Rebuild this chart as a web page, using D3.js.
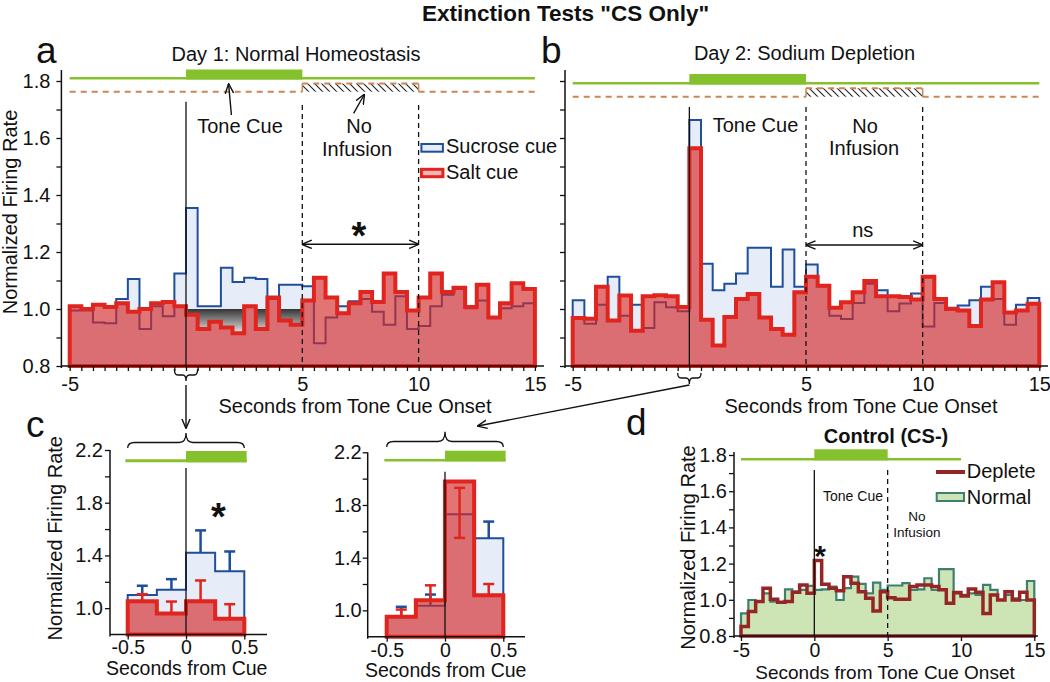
<!DOCTYPE html>
<html><head><meta charset="utf-8">
<script src="https://cdn.jsdelivr.net/npm/d3@7"></script>
<style>body{margin:0;background:#fff} svg{display:block}</style>
</head><body><svg id="c" width="1050" height="682"></svg>
<script>
// ---------------- DATA ----------------
const binStarts = d3.range(-5, 15, 0.5);   // 40 bins of 0.5 s
const binW = 0.5;
const aSucrose = [0.995,0.995,0.953,0.95,1.035,1.105,0.93,1.01,0.975,1.125,
  1.354,1.01,1.01,1.145,1.095,1.11,1.105,1.035,1.085,1.085,
  1.08,0.88,0.97,1.01,1.027,1.035,0.99,0.945,1.045,0.93,
  0.94,1.01,1.05,1.07,1.003,1.03,0.97,1.003,1.01,1.02];
const aSalt = [1.01,1.0,1.015,1.007,1.02,0.99,1.0,1.02,1.025,1.01,
  0.98,0.93,0.955,0.935,0.915,1.01,0.93,1.04,0.96,0.945,
  1.03,1.11,1.04,0.985,1.02,1.06,1.025,1.125,1.06,0.995,
  1.04,1.125,1.06,1.075,1.007,1.085,0.97,1.02,1.09,1.07];
const bSucrose = [1.031,0.948,1.015,1.113,0.976,1.015,0.933,1.024,1.006,0.992,
  1.663,1.159,1.066,1.089,1.125,1.215,1.215,1.078,1.209,1.078,
  1.156,1.08,0.976,0.965,1.021,1.089,1.066,0.992,1.019,1.054,
  0.939,1.021,1.004,1.012,1.031,1.078,1.035,0.945,1.015,1.039];
const bSalt = [0.968,0.966,1.078,0.96,1.047,0.924,1.045,1.048,1.045,1.007,
  1.564,0.962,0.872,0.972,1.035,1.053,0.97,0.93,0.91,1.059,
  1.113,1.082,1.004,1.024,1.059,1.098,1.045,1.045,1.042,1.033,
  1.113,1.035,1.0,0.995,0.94,1.033,1.094,0.988,0.995,1.018];
const dDeplete = [0.852,0.935,0.99,1.064,1.003,0.986,0.99,1.042,1.082,1.036,
  1.217,1.086,1.064,1.05,1.128,1.092,1.045,1.008,0.938,1.045,
  1.012,1.003,1.003,1.073,1.082,1.082,1.073,1.055,0.981,1.04,
  1.021,1.06,1.042,0.925,1.027,0.999,1.045,0.999,1.042,0.999];
const dNormal = [0.925,0.999,0.99,1.036,0.99,0.985,1.058,1.045,1.055,1.077,
  1.055,1.058,1.073,0.999,1.064,1.128,1.088,1.036,1.095,1.055,
  1.079,1.079,1.092,1.055,1.058,1.119,1.055,1.169,1.169,1.036,
  1.027,1.036,1.027,1.082,1.055,0.999,1.027,1.008,0.999,1.104];
// inset (c) bins of 0.25 s
const cStarts = [-0.5,-0.25,0,0.25];
const cW = 0.25;
const c1Sucrose = [1.10,1.14,1.42,1.28];
const c1SucroseErrHi = [1.17,1.22,1.59,1.43];
const c1Salt = [1.053,0.96,1.053,0.92];
const c1SaltErrHi = [1.106,1.05,1.21,1.03];
const c2Sucrose = [0.95,1.035,1.73,1.548];
const c2SucroseErrHi = [1.027,1.12,1.73,1.674];
const c2Salt = [0.951,1.077,1.979,1.115];
const c2SaltErrLo = [0.951,1.077,1.55,1.115];
const c2SaltErrHi = [1.006,1.19,1.93,1.20];
// windows / ticks
const trialWin = [-5,15], toneWin = [0,5], infusionWin = [5,10], dBarWin = [-5,10];
const cBarWin = [-0.52,0.52], cToneWin = [0,0.52];
const yTicksMain = [8,9,10,11,12,13,14,15,16,17,18].map(d=>d/10);
const yLabelsMain = [0.8,1.0,1.2,1.4,1.6,1.8];
const yTicksC = [10,12,14,16,18,20,22].map(d=>d/10);
const yLabelsC = [1.0,1.4,1.8,2.2];
const xLabelsAB = [-5,5,10,15];
const xLabelsD = [-5,0,5,10,15];
const xLabelsC = [-0.5,0,0.5];

// ---------------- SETUP ----------------
const FONT = "'Liberation Sans', Arial, Helvetica, sans-serif";
const svg = d3.select("#c");
svg.append("rect").attr("width",1050).attr("height",682).attr("fill","#fff");
const defs = svg.append("defs");
defs.append("marker").attr("id","arr").attr("viewBox","0 0 10 10").attr("refX",9.5).attr("refY",5)
  .attr("markerWidth",10).attr("markerHeight",10).attr("markerUnits","userSpaceOnUse").attr("orient","auto-start-reverse")
  .append("path").attr("d","M0,0.8 L10,5 L0,9.2").attr("fill","none").attr("stroke","#111").attr("stroke-width",1.4);
const pat = defs.append("pattern").attr("id","hatch").attr("patternUnits","userSpaceOnUse").attr("width",7).attr("height",7);
pat.append("path").attr("d","M0,0 L7,7 M-1,6 L1,8 M6,-1 L8,1").attr("stroke","#222").attr("stroke-width",1.1);

const GREEN="#84c12c", ORANGE="#c98756", BLUE="#1f4e9c", BLUEF="#e6edf8", RED="#e0241e", REDF="#d42a2a", REDOP=0.65;
const DRED="#962626", TEAL="#3e7f6f", GREENF="#cde5b5";

const A = {x:d3.scaleLinear(trialWin,[69.7,534.9]), y:d3.scaleLinear([0.8,1.8],[366,81])};
const B = {x:d3.scaleLinear(trialWin,[572.7,1039.3]), y:d3.scaleLinear([0.8,1.8],[366,81])};
const C1 = {x:d3.scaleLinear([-0.5,0.5],[127.7,244.3]), y:d3.scaleLinear([0.8,2.2],[634.5,450])};
const C2 = {x:d3.scaleLinear([-0.5,0.5],[386.7,503.3]), y:d3.scaleLinear([0.8,2.2],[636.7,452.3])};
const D = {x:d3.scaleLinear(trialWin,[741,1034.3]), y:d3.scaleLinear([0.8,1.8],[636,455])};

function stepPath(P, starts, w, vals, base){
  const pts = vals.map((v,i)=>[starts[i],v]);
  pts.push([starts[vals.length-1]+w, vals[vals.length-1]]);
  return d3.area().curve(d3.curveStepAfter).x(d=>P.x(d[0])).y0(P.y(base)).y1(d=>P.y(d[1]))(pts);
}
function txt(x,y,s,o={}){
  const t = svg.append("text").attr("x",x).attr("y",y).text(s)
    .attr("font-family",FONT).attr("font-size",o.size||20).attr("fill",o.fill||"#111")
    .attr("text-anchor",o.anchor||"start").attr("font-weight",o.weight||"normal");
  if(o.rotate) t.attr("transform",`rotate(-90,${x},${y})`);
  return t;
}
function isIn(arr,d){return arr.some(l=>Math.abs(l-d)<1e-6);}
function yAxis(P, x0, ticks, labels, pad, top){
  const g = svg.append("g").attr("transform",`translate(${x0},0)`);
  g.call(d3.axisLeft(P.y).tickValues(ticks).tickSize(5).tickPadding(pad).tickFormat(d=>isIn(labels,d)?d.toFixed(1):""));
  g.attr("font-family",FONT).attr("font-size",20);
  g.select(".domain").remove();
  g.selectAll(".tick line").attr("stroke","#111").attr("stroke-width",1.3);
  g.selectAll(".tick text").attr("fill","#111");
  g.append("line").attr("y1",top).attr("y2",P.y.range()[0]+2).attr("stroke","#111").attr("stroke-width",1.5);
}
function xAxis(P, y0, ticks, labels, pad, x1, x2, fs){
  const g = svg.append("g").attr("transform",`translate(0,${y0})`);
  g.call(d3.axisBottom(P.x).tickValues(ticks).tickSize(5).tickPadding(pad).tickFormat(d=>isIn(labels,d)?String(d):""));
  g.attr("font-family",FONT).attr("font-size",fs||20);
  g.select(".domain").remove();
  g.selectAll(".tick line").attr("stroke","#111").attr("stroke-width",1.3);
  g.selectAll(".tick text").attr("fill","#111");
  g.append("line").attr("x1",x1).attr("x2",x2).attr("stroke","#111").attr("stroke-width",1.5);
}
function vline(P, t, y1, dashed){
  svg.append("line").attr("x1",P.x(t)).attr("x2",P.x(t)).attr("y1",y1).attr("y2",P.y.range()[0])
    .attr("stroke","#111").attr("stroke-width",1.3).attr("stroke-dasharray",dashed?"5,4":null);
}
function greenBar(P, win, tone, yThin, thinW, yTop, yBot){
  svg.append("line").attr("x1",P.x(win[0])).attr("x2",P.x(win[1])).attr("y1",yThin).attr("y2",yThin)
    .attr("stroke",GREEN).attr("stroke-width",thinW);
  svg.append("rect").attr("x",P.x(tone[0])).attr("width",P.x(tone[1])-P.x(tone[0]))
    .attr("y",yTop).attr("height",yBot-yTop).attr("fill",GREEN);
}
function infusionLine(P, yBase, yTop){
  const seg = [[trialWin[0],infusionWin[0]],[infusionWin[1],trialWin[1]]];
  seg.forEach(s=>svg.append("line").attr("x1",P.x(s[0])).attr("x2",P.x(s[1])).attr("y1",yBase).attr("y2",yBase)
    .attr("stroke",ORANGE).attr("stroke-width",2).attr("stroke-dasharray","6,5"));
  const x1=P.x(infusionWin[0]), x2=P.x(infusionWin[1]);
  svg.append("rect").attr("x",x1).attr("width",x2-x1).attr("y",yTop).attr("height",yBase-yTop).attr("fill","url(#hatch)");
  svg.append("line").attr("x1",x1).attr("x2",x2).attr("y1",yTop).attr("y2",yTop)
    .attr("stroke",ORANGE).attr("stroke-width",2).attr("stroke-dasharray","6,5");
  [x1,x2].forEach(x=>svg.append("line").attr("x1",x).attr("x2",x).attr("y1",yTop).attr("y2",yBase)
    .attr("stroke",ORANGE).attr("stroke-width",1.5));
}
function brace(x1,x2,yEnd,yLine,yTip){
  const xm=(x1+x2)/2, q=Math.min(7,(x2-x1)/7);
  return `M${x1},${yEnd} Q${x1},${yLine} ${x1+q},${yLine} L${xm-q},${yLine} Q${xm},${yLine} ${xm},${yTip} Q${xm},${yLine} ${xm+q},${yLine} L${x2-q},${yLine} Q${x2},${yLine} ${x2},${yEnd}`;
}
function drawBrace(d){svg.append("path").attr("d",d).attr("fill","none").attr("stroke","#111").attr("stroke-width",1.3);}
function arrow(x1,y1,x2,y2,both){
  svg.append("line").attr("x1",x1).attr("y1",y1).attr("x2",x2).attr("y2",y2)
    .attr("stroke","#111").attr("stroke-width",1.4).attr("marker-end","url(#arr)").attr("marker-start",both?"url(#arr)":null);
}
function blueHist(P, starts, w, vals){
  svg.append("path").attr("d",stepPath(P,starts,w,vals,0.8)).attr("fill",BLUEF).attr("stroke",BLUE).attr("stroke-width",2);
}
function redHist(P, starts, w, vals){
  const d = stepPath(P,starts,w,vals,0.8);
  svg.append("path").attr("d",d).attr("fill",REDF).attr("fill-opacity",REDOP);
  svg.append("path").attr("d",d).attr("fill","none").attr("stroke",RED).attr("stroke-width",4);
}
function errBars(P, starts, w, means, lo, hi, color, sw){
  means.forEach((m,i)=>{
    if(hi[i]-lo[i] < 1e-6) return;
    const xc = P.x(starts[i]+w/2);
    svg.append("line").attr("x1",xc).attr("x2",xc).attr("y1",P.y(lo[i])).attr("y2",P.y(hi[i])).attr("stroke",color).attr("stroke-width",sw);
    svg.append("line").attr("x1",xc-5.5).attr("x2",xc+5.5).attr("y1",P.y(hi[i])).attr("y2",P.y(hi[i])).attr("stroke",color).attr("stroke-width",sw);
    if(lo[i] < m-1e-6)
      svg.append("line").attr("x1",xc-5.5).attr("x2",xc+5.5).attr("y1",P.y(lo[i])).attr("y2",P.y(lo[i])).attr("stroke",color).attr("stroke-width",sw);
  });
}

// ---------------- TITLE ----------------
txt(565.5,20.5,'Extinction Tests "CS Only"',{size:22.5,weight:"bold",anchor:"middle"});

// ---------------- PANEL A ----------------
txt(36,63,"a",{size:37});
txt(296,60.5,"Day 1: Normal Homeostasis",{anchor:"middle"});
greenBar(A, trialWin, toneWin, 78.2, 2.6, 69.5, 79.5);
infusionLine(A, 91.7, 83.5);
blueHist(A, binStarts, binW, aSucrose);
{
  // grey shading between 1.0 and the salt trace during the tone
  const grad = defs.append("linearGradient").attr("id","grey").attr("gradientUnits","userSpaceOnUse")
    .attr("x1",0).attr("x2",0).attr("y1",A.y(1.0)).attr("y2",A.y(0.91));
  grad.append("stop").attr("offset",0).attr("stop-color","#353535");
  grad.append("stop").attr("offset",1).attr("stop-color","#f0f0f0");
  const idx = binStarts.map((s,i)=>i).filter(i=>binStarts[i]>=toneWin[0] && binStarts[i]<toneWin[1]);
  const pts = idx.map(i=>[binStarts[i], aSalt[i]]);
  pts.push([binStarts[idx[idx.length-1]]+binW, aSalt[idx[idx.length-1]]]);
  svg.append("path").attr("d", d3.area().curve(d3.curveStepAfter).x(d=>A.x(d[0]))
      .y0(d=>A.y(Math.min(d[1],1.0))).y1(A.y(1.0))(pts)).attr("fill","url(#grey)");
}
redHist(A, binStarts, binW, aSalt);
vline(A, 0, 101.7, false);
vline(A, infusionWin[0], 105, true);
vline(A, infusionWin[1], 105, true);
yAxis(A, 61.4, yTicksMain, yLabelsMain, 6, 70);
xAxis(A, 366, binStarts.concat([15]), xLabelsAB, 6, 61.4, 544);
txt(240,133,"Tone Cue",{anchor:"middle"});
arrow(231.4,115,228.6,84);
txt(359,133,"No",{anchor:"middle"});
txt(357,156,"Infusion",{anchor:"middle"});
arrow(353.6,113.3,364.3,94.5);
svg.append("rect").attr("x",421.4).attr("y",144).attr("width",21.5).attr("height",7.7).attr("fill",BLUEF).attr("stroke",BLUE).attr("stroke-width",2);
svg.append("rect").attr("x",421.4).attr("y",169.3).attr("width",21.5).attr("height",7.4).attr("fill",REDF).attr("fill-opacity",0.35).attr("stroke",RED).attr("stroke-width",3);
txt(446,152.6,"Sucrose cue");
txt(446,179,"Salt cue");
arrow(A.x(infusionWin[0]),244.3,A.x(infusionWin[1]),244.3,true);
txt(359,248.5,"*",{size:38,weight:"bold",anchor:"middle"});
txt(16.5,212,"Normalized Firing Rate",{anchor:"middle",rotate:true});
txt(355,412.5,"Seconds from Tone Cue Onset",{anchor:"middle"});
drawBrace(brace(A.x(-0.5),A.x(0.5),369,375,381));
arrow(A.x(0),385,C1.x(0),428);

// ---------------- PANEL B ----------------
txt(541,63,"b",{size:37});
txt(804.5,60,"Day 2: Sodium Depletion",{anchor:"middle"});
greenBar(B, trialWin, toneWin, 83.3, 2.6, 74, 84.5);
infusionLine(B, 96.7, 88.3);
blueHist(B, binStarts, binW, bSucrose);
redHist(B, binStarts, binW, bSalt);
vline(B, 0, 107, false);
vline(B, infusionWin[0], 107, true);
vline(B, infusionWin[1], 107, true);
yAxis(B, 565, yTicksMain, [], 6, 70);
xAxis(B, 366, binStarts.concat([15]), xLabelsAB, 6, 565, 1048);
txt(755.5,131.5,"Tone Cue",{anchor:"middle"});
txt(865,133,"No",{anchor:"middle"});
txt(864,155,"Infusion",{anchor:"middle"});
arrow(B.x(infusionWin[0]),245,B.x(infusionWin[1]),245,true);
txt(862.7,237,"ns",{anchor:"middle"});
txt(861,412.5,"Seconds from Tone Cue Onset",{anchor:"middle"});
drawBrace(brace(B.x(-0.5),B.x(0.5),373,378,384));
arrow(B.x(0),385,C2.x(0.28),426);

// ---------------- PANEL C ----------------
txt(26,437,"c",{size:37});
// left inset
greenBar(C1, cBarWin, cToneWin, 460.8, 3, 451, 462.3);
drawBrace(brace(C1.x(-0.5),C1.x(0.5),448,442.5,433));
blueHist(C1, cStarts, cW, c1Sucrose);
errBars(C1, cStarts, cW, c1Sucrose, c1Sucrose, c1SucroseErrHi, BLUE, 2.5);
redHist(C1, cStarts, cW, c1Salt);
errBars(C1, cStarts, cW, c1Salt, c1Salt, c1SaltErrHi, RED, 2.5);
vline(C1, 0, 468, false);
yAxis(C1, 110, yTicksC, yLabelsC, 2, 450);
xAxis(C1, 634.5, xLabelsC, xLabelsC, 1, 110, 267, 19.5);
txt(61.7,538.3,"Normalized Firing Rate",{anchor:"middle",rotate:true});
txt(186.7,675,"Seconds from Cue",{anchor:"middle",size:19.5});
txt(218.5,530,"*",{size:38,weight:"bold",anchor:"middle"});
// right inset
greenBar(C2, cBarWin, cToneWin, 460.2, 2.6, 450.7, 461.3);
drawBrace(brace(C2.x(-0.5),C2.x(0.5),447,441.5,431.7));
blueHist(C2, cStarts, cW, c2Sucrose);
errBars(C2, cStarts, cW, c2Sucrose, c2Sucrose, c2SucroseErrHi, BLUE, 2.5);
redHist(C2, cStarts, cW, c2Salt);
errBars(C2, cStarts, cW, c2Salt, c2SaltErrLo, c2SaltErrHi, RED, 2.5);
vline(C2, 0, 471.7, false);
yAxis(C2, 367.7, yTicksC, yLabelsC, 1, 452.3);
xAxis(C2, 636.7, xLabelsC, xLabelsC, 1, 367.7, 525, 19.5);
txt(445.7,677,"Seconds from Cue",{anchor:"middle",size:19.5});

// ---------------- PANEL D ----------------
txt(626,435,"d",{size:37});
txt(886,443,"Control (CS-)",{anchor:"middle",weight:"bold"});
greenBar(D, dBarWin, toneWin, 459.2, 2.6, 449.3, 460.3);
svg.append("path").attr("d",stepPath(D,binStarts,binW,dNormal,0.8)).attr("fill",GREENF).attr("stroke",TEAL).attr("stroke-width",2.2);
svg.append("path").attr("d",stepPath(D,binStarts,binW,dDeplete,0.8)).attr("fill","none").attr("stroke",DRED).attr("stroke-width",3.5);
vline(D, 0, 470, false);
vline(D, toneWin[1], 470, true);
yAxis(D, 734, yTicksMain, yLabelsMain, 2, 452);
xAxis(D, 636, xLabelsD, xLabelsD, 2, 734, 1038, 19.5);
svg.append("line").attr("x1",936).attr("x2",965).attr("y1",472).attr("y2",472).attr("stroke",DRED).attr("stroke-width",4);
svg.append("rect").attr("x",936.7).attr("y",493).attr("width",27.3).attr("height",8).attr("fill",GREENF).attr("stroke",TEAL).attr("stroke-width",2);
txt(966.7,478,"Deplete");
txt(966.7,504,"Normal");
txt(853,501,"Tone Cue",{size:14,anchor:"middle"});
txt(917,521,"No",{size:13.5,anchor:"middle"});
txt(917,537,"Infusion",{size:13.5,anchor:"middle"});
txt(820,566,"*",{size:30,weight:"bold",anchor:"middle"});
txt(695,547.5,"Normalized Firing Rate",{anchor:"middle",rotate:true});
txt(885,678.5,"Seconds from Tone Cue Onset",{anchor:"middle",size:19});
</script></body></html>
